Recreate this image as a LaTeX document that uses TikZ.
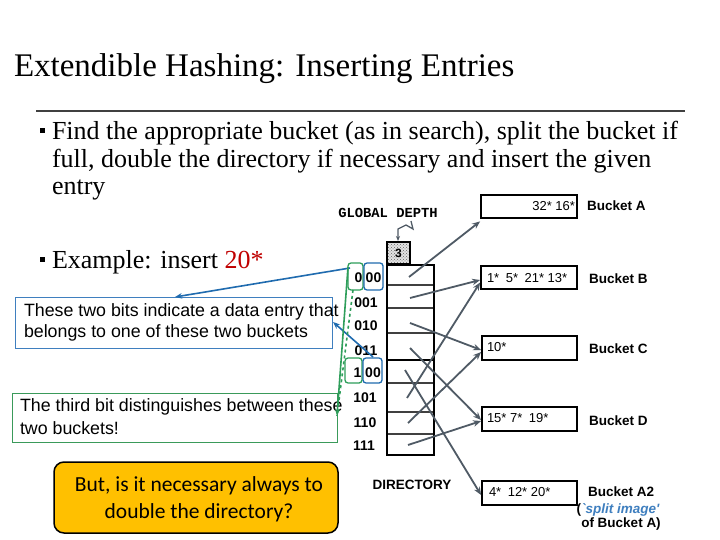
\documentclass[tikz,border=0pt]{standalone}
\usepackage{fontspec}
\setmainfont{Liberation Serif}
\newfontfamily\arial{Liberation Sans}
\newfontfamily\cour{Liberation Mono}
\newfontfamily\calib{Carlito}
\usetikzlibrary{arrows.meta,patterns}
\definecolor{arrgray}{HTML}{4F5A65}
\definecolor{myblue}{HTML}{1F6BAF}
\definecolor{mygreen}{HTML}{2E9E5A}
\definecolor{boxblue}{HTML}{3F7FBF}
\definecolor{boxgreen}{HTML}{3A9A5A}
\definecolor{darkred}{HTML}{C00000}
\definecolor{orangey}{HTML}{FFC000}
\definecolor{rulegray}{HTML}{404040}
\tikzset{
  txt/.style={inner sep=0pt, outer sep=0pt},
  bullettxt/.style={txt, anchor=base west, font=\fontsize{26}{26}\selectfont},
  sq/.style={fill=black, minimum size=5.5pt, inner sep=0pt},
  lbl/.style={txt, font=\arial\bfseries\fontsize{14}{14}\selectfont},
  entry/.style={txt, font=\arial\fontsize{13}{13}\selectfont},
  bucket/.style={draw=black, line width=1.8pt, minimum width=96pt, minimum height=23pt, inner sep=0pt},
  bname/.style={txt, anchor=west, font=\arial\bfseries\fontsize{13.5}{13.5}\selectfont},
  dirarr/.style={draw=arrgray, line width=1.8pt, -{Stealth[length=8pt,width=6.5pt]}},
  bluearr/.style={draw=myblue, line width=1.6pt, -{Stealth[length=7pt,width=5.5pt]}},
  greenarr/.style={draw=mygreen, line width=1.6pt},
  gbox/.style={draw=mygreen, line width=1.3pt, rounded corners=3pt},
  bbox/.style={draw=myblue, line width=1.3pt, rounded corners=3pt},
  callout/.style={txt, anchor=west, font=\arial\fontsize{17.8}{17.8}\selectfont},
}
\begin{document}
\begin{tikzpicture}[x=1pt,y=-1pt]
\useasboundingbox (0,0) rectangle (720,540);
\fill[white] (0,0) rectangle (720,540);

% title
\node[txt, anchor=base west, font=\fontsize{33}{33}\selectfont] (title) at (14,77) {Extendible Hashing: Inserting Entries};
\draw[rulegray, line width=2pt] (36,111) -- (685,111);

% bullets
\node[sq] (sq1) at (42.5,130.5) {};
\node[bullettxt] (l1) at (52,140) {Find the appropriate bucket (as in search), split the bucket if};
\node[bullettxt] (l2) at (52,168) {full, double the directory if necessary and insert the given};
\node[bullettxt] (l3) at (52,195) {entry};
\node[sq] (sq2) at (42.5,259.5) {};
\node[bullettxt] (l4) at (52,268) {Example: insert \textcolor{darkred}{20*}};

% global depth
\node[txt, font=\cour\bfseries\fontsize{13.8}{13.8}\selectfont] (gd) at (388,213) {GLOBAL DEPTH};
\fill[gray!22] (387,242) rectangle (410,264);
\draw[pattern=crosshatch dots, pattern color=gray!80!black, line width=1.3pt] (387,242) rectangle (410,264);
\node[txt, font=\arial\bfseries\fontsize{12}{12}\selectfont] (three) at (398.5,253) {3};
\coordinate (z0) at (411,221);
\coordinate (z3) at (398,241);
\draw[arrgray, line width=1.3pt, -{Stealth[length=5pt,width=4pt]}] (z0) -- (413,229) -- (406,225) -- (398,229) -- (z3);

% directory
\draw[rulegray, line width=1.2pt] (387,285) -- (434,285) (387,308) -- (434,308) (387,333) -- (434,333)
  (387,383) -- (434,383) (387,412) -- (434,412) (387,434) -- (434,434);
\draw[black, line width=1.8pt] (387,360) -- (434,360);
\draw[black, line width=1.8pt] (387,265) rectangle (434,455);
\node[txt, font=\arial\bfseries\fontsize{13.5}{13.5}\selectfont] (dirlbl) at (412,485) {DIRECTORY};

% labels
\node[lbl] (k0a) at (358.5,278) {0};
\node[lbl] (k0b) at (373.5,278) {00};
\node[lbl] (k1) at (366,303) {001};
\node[lbl] (k2) at (366,326) {010};
\node[lbl] (k3) at (366,351) {011};
\node[lbl] (k4a) at (357.5,373) {1};
\node[lbl] (k4b) at (373,373) {00};
\node[lbl] (k5) at (365,398) {101};
\node[lbl] (k6) at (365,423) {110};
\node[lbl] (k7) at (364,446) {111};

\draw[gbox] (348,263) rectangle (363,290);
\draw[bbox] (364,263) rectangle (383,290);
\draw[gbox] (345,358) rectangle (362,383);
\draw[bbox] (363,358) rectangle (382,383);

% buckets
\node[bucket] (bA) at (529,206.5) {};
\node[bucket] (bB) at (529,277.5) {};
\node[bucket, minimum width=95pt, minimum height=24pt] (bC) at (529.5,348) {};
\node[bucket, minimum width=95pt, minimum height=24pt] (bD) at (529.5,419) {};
\node[bucket, minimum width=95pt, minimum height=24pt] (bA2) at (529.5,493) {};

\node[entry, anchor=east] (eA) at (575,206) {32* 16*};
\node[entry, anchor=west] (eB) at (487,278) {1*\,\,\,5*\,\,\,21* 13*};
\node[entry, anchor=west] (eC) at (487,347) {10*};
\node[entry, anchor=west] (eD) at (487,418) {15* 7*\,\,\,19*};
\node[entry, anchor=west] (eA2) at (489,492) {4*\,\,\,12* 20*};

\node[bname] (nA) at (587,206) {Bucket A};
\node[bname] (nB) at (589,279) {Bucket B};
\node[bname] (nC) at (589,349) {Bucket C};
\node[bname] (nD) at (589,421) {Bucket D};
\node[bname] (nA2) at (588,492) {Bucket A2};
\node[bname, anchor=center] (nA2b) at (618,510) {(\textcolor{boxblue}{\itshape `split image'}};
\node[bname, anchor=center] (nA2c) at (621,524) {of Bucket A)};

% directory pointers
\coordinate (d0) at (409,277);
\coordinate (d1) at (410,298);
\coordinate (d2) at (410,323);
\coordinate (d3) at (410,348);
\coordinate (d4) at (405,370);
\coordinate (d5) at (407,398);
\coordinate (d6) at (408,423);
\coordinate (d7) at (408,445);
\draw[dirarr] (d0) -- ([yshift=-2.5pt]bA.south west);
\draw[dirarr] (d1) -- ([yshift=-2.5pt]bB.west);
\draw[dirarr] (d2) -- ([yshift=-2pt]bC.west);
\draw[dirarr] (d3) -- ([yshift=-1pt]bD.west);
\draw[dirarr] (d4) -- ([yshift=-2pt]bA2.west);
\draw[dirarr] (d5) -- ([yshift=-5pt]bB.west);
\draw[dirarr] (d6) -- ([yshift=-4pt]bC.west);
\draw[dirarr] (d7) -- ([yshift=-2pt]bD.west);

% callouts
\draw[boxblue, line width=1pt] (15,297) rectangle (332,348);
\node[callout] (c1a) at (24,312) {These two bits indicate a data entry that};
\node[callout] (c1b) at (24,333) {belongs to one of these two buckets};
\draw[boxgreen, line width=1pt] (12,393) rectangle (337,442);
\node[callout] (c2a) at (20,407) {The third bit distinguishes between these};
\node[callout] (c2b) at (20,428) {two buckets!};

\node[draw=black, line width=1.5pt, fill=orangey, rounded corners=10pt, minimum width=284pt, minimum height=71pt] (q) at (196,497.5) {};
\node[txt, font=\calib\fontsize{21.5}{27}\selectfont, align=center] (qt) at (199,499.5) {But, is it necessary always to\\double the directory?};

% explanation arrows
\coordinate (b1s) at (350,268);
\coordinate (b1e) at (175,297);
\coordinate (b2s) at (373,357);
\coordinate (b2e) at (333,322);
\draw[bluearr] (b1s) -- (b1e);
\draw[bluearr] (b2s) -- (b2e);
\coordinate (g1s) at (348,267);
\coordinate (g2s) at (353,290);
\coordinate (ge) at (337,416);
\draw[greenarr, dashed] (g2s) -- (ge);
\draw[greenarr, -{Stealth[length=7pt,width=5pt]}] (g1s) -- (ge);
\end{tikzpicture}
\end{document}
